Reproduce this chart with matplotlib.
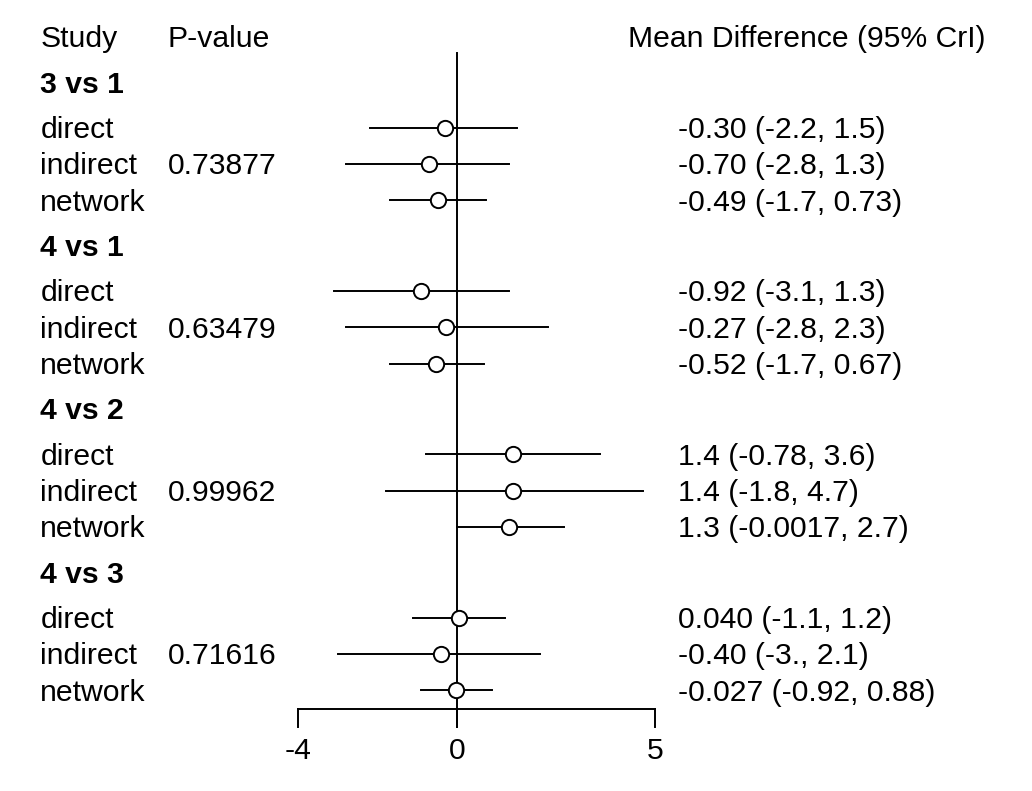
import matplotlib.pyplot as plt

# ---- data ----
comparisons = ["3 vs 1", "4 vs 1", "4 vs 2", "4 vs 3"]
evidence = ["direct", "indirect", "network"]
p_values = ["0.73877", "0.63479", "0.99962", "0.71616"]

est = [-0.30, -0.70, -0.49,
       -0.92, -0.27, -0.52,
       1.4, 1.4, 1.3,
       0.040, -0.40, -0.027]
lower = [-2.2, -2.8, -1.7,
         -3.1, -2.8, -1.7,
         -0.78, -1.8, -0.0017,
         -1.1, -3.0, -0.92]
upper = [1.5, 1.3, 0.73,
         1.3, 2.3, 0.67,
         3.6, 4.7, 2.7,
         1.2, 2.1, 0.88]
ci_labels = ["-0.30 (-2.2, 1.5)", "-0.70 (-2.8, 1.3)", "-0.49 (-1.7, 0.73)",
             "-0.92 (-3.1, 1.3)", "-0.27 (-2.8, 2.3)", "-0.52 (-1.7, 0.67)",
             "1.4 (-0.78, 3.6)", "1.4 (-1.8, 4.7)", "1.3 (-0.0017, 2.7)",
             "0.040 (-1.1, 1.2)", "-0.40 (-3., 2.1)", "-0.027 (-0.92, 0.88)"]
x_ticks = [-4, 0, 5]

plt.rcParams['font.family'] = ['Liberation Sans', 'DejaVu Sans']
FS = 21.7
LW = 1.4
DY = 0.06  # small nudge so text sits level with the marks

fig = plt.figure(figsize=(10.32, 7.91), dpi=100)
ax = fig.add_axes([0, 0, 1, 1])
ax.set_xlim(-457 / 39.67, (1032 - 457) / 39.67)
ax.set_ylim((791 - 37) / 36.3, -37 / 36.3)
ax.axis("off")

# columns
x_study, x_p, x_ci_head, x_ci = -10.5, -7.3, 4.31, 5.57

ax.text(x_study, DY, "Study", fontsize=FS, va="center")
ax.text(x_p, DY, "P-value", fontsize=FS, va="center")
ax.text(x_ci_head, DY, "Mean Difference (95% CrI)", fontsize=FS, va="center")

for k, comp in enumerate(comparisons):
    y0 = 1.25 + 4.5 * k
    ax.text(x_study, y0 + DY, comp, fontsize=FS, fontweight="bold", va="center")
    for j, ev in enumerate(evidence):
        i = 3 * k + j
        y = y0 + 1.25 + j
        ax.text(x_study, y + DY, ev, fontsize=FS, va="center")
        if ev == "indirect":
            ax.text(x_p, y + DY, p_values[k], fontsize=FS, va="center")
        ax.text(x_ci, y + DY, ci_labels[i], fontsize=FS, va="center")
        ax.plot([lower[i], upper[i]], [y, y], color="black", lw=LW, zorder=2)
        ax.plot(est[i], y, "o", ms=11, mfc="white", mec="black", mew=LW, zorder=3)

# reference line and x-axis
y_axis = 18.51
y_tick = 19.0
ax.plot([0, 0], [0.44, y_tick], color="black", lw=LW, zorder=1)
ax.plot([x_ticks[0], x_ticks[-1]], [y_axis, y_axis], color="black", lw=LW)
for t in x_ticks:
    ax.plot([t, t], [y_axis, y_tick], color="black", lw=LW)
    ax.text(t, 19.62 + DY, str(t), fontsize=FS, ha="center", va="center")

fig.savefig("out.png", dpi=100)
